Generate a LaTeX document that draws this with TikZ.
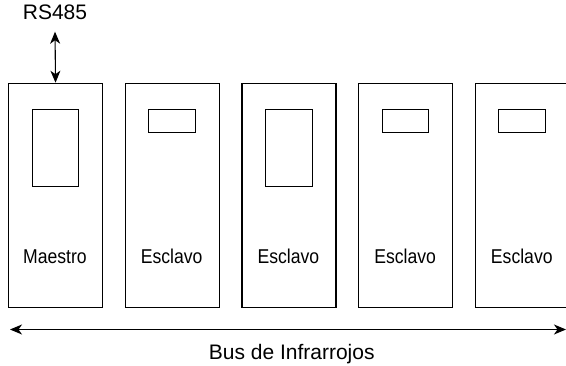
\documentclass[tikz,border=0pt]{standalone}
\usepackage{fontspec}
\setmainfont{Liberation Sans}
\newfontfamily\narrowfont[FakeStretch=0.88]{Liberation Sans}
\usetikzlibrary{arrows.meta, positioning}

\begin{document}
\begin{tikzpicture}[x=1pt,y=-1pt,
     unit/.style={draw,rectangle,line width=1.1pt,minimum width=94pt,minimum height=224.6pt,inner sep=0pt,anchor=north west},
     win/.style={draw,rectangle,line width=1.1pt,minimum width=46.7pt,inner sep=0pt,anchor=north west},
     lbl/.style={font=\narrowfont\fontsize{20}{22}\selectfont,anchor=base},
     txt/.style={font=\fontsize{21}{23}\selectfont,anchor=base},
     dbl/.style={line width=1.1pt,{Stealth[length=12pt,width=10pt,inset=3.5pt]}-{Stealth[length=12pt,width=10pt,inset=3.5pt]}}
     ]
\useasboundingbox (0,0) rectangle (566,366);
\clip (0,0) rectangle (566,366);

%Left edge of the first unit and distance between units
\def \xmin{8}
\def \pitch{116.7}
\def \ytop{82.7}
\def \ywin{108.7}
\def \ybase{264}

%Units with their window and label
\foreach [count=\i] \t/\h in {Maestro/77,Esclavo/23.3,Esclavo/77,Esclavo/23.3,Esclavo/23.3}
   {
\pgfmathsetmacro{\xl}{\xmin+(\i-1)*\pitch}
\node[unit] (unit\i) at (\xl,\ytop) {};
\node[win,minimum height=\h pt] (win\i) at ({\xl+23.5},\ywin) {};
\node[lbl] (lab\i) at ({\xl+47},\ybase) {\t};
   }

%RS485 link of the master
\node[txt] (rs) at (55,20) {RS485};
\draw[dbl] ([yshift=-8pt]rs.south) -- (unit1.north);

%Infrared bus
\coordinate (busL) at (10,329.5);
\coordinate (busR) at (566,329.5);
\draw[dbl] (busL) -- (busR);
\node[txt] (bus) at (291.7,359.5) {Bus de Infrarrojos};
\end{tikzpicture}
\end{document}
